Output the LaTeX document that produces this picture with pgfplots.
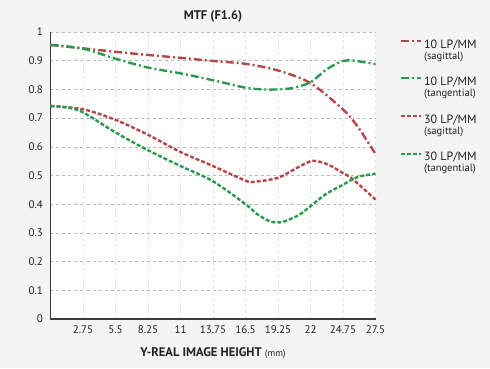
\documentclass[border=0pt]{standalone}
\usepackage{pgfplots}
\pgfplotsset{compat=1.18}
\usepackage{fontspec}
\setmainfont{PT Sans}
\definecolor{bgc}{HTML}{F4F4F4}
\definecolor{redc}{HTML}{B5474A}
\definecolor{greenc}{HTML}{2A9A4C}
\definecolor{axc}{HTML}{3A3A3A}
\definecolor{txt}{HTML}{222222}
\newcommand{\lent}[2]{\begin{tabular}[t]{@{}l@{}}#1\\[-2pt]{\fontsize{10.5}{11}\selectfont #2}\end{tabular}}
\begin{document}
\begin{tikzpicture}[x=1pt,y=1pt]
\path[use as bounding box, fill=bgc] (-50.5,-49) rectangle (439.5,319);
\begin{axis}[
  at={(0,0)}, anchor=south west,
  scale only axis, width=325pt, height=287pt,
  xmin=0, xmax=27.5, ymin=0, ymax=1,
  axis x line*=bottom, axis y line*=left,
  axis line style={axc, line width=1.2pt, -},
  axis background/.style={fill=white},
  xtick={2.75,5.5,8.25,11,13.75,16.5,19.25,22,24.75,27.5},
  xticklabels={2.75,5.5,8.25,11,13.75,16.5,19.25,22,24.75,27.5},
  ytick={0,0.1,0.2,0.3,0.4,0.5,0.6,0.7,0.8,0.9,1},
  yticklabels={0,0.1,0.2,0.3,0.4,0.5,0.6,0.7,0.8,0.9,1},
  major tick length=0pt,
  ticklabel style={font=\fontsize{11}{12}\selectfont, text=txt},
  xticklabel style={yshift=-3pt},
  yticklabel style={xshift=-4pt},
  ymajorgrids, xmajorgrids,
  y grid style={dashed, gray!55, line width=0.6pt},
  x grid style={dashed, gray!22, line width=0.6pt},
  legend cell align=left,
  legend style={at={(1.075,0.983)}, anchor=north west, draw=none, fill=none,
    font=\fontsize{12}{13}\selectfont, text=txt,
    row sep=23pt, inner sep=0pt, nodes={inner sep=2pt}},
  legend image code/.code={\draw[#1, line width=2pt] (0pt,3.5pt) -- (20pt,3.5pt);},
  clip=false,
]
\addplot[redc, line width=2.4pt, smooth, dash pattern=on 8pt off 3pt on 2pt off 3pt]
 coordinates {(0,0.955)(2.75,0.943)(5.5,0.931)(8.25,0.92)(11,0.91)(13.75,0.899)(16.5,0.889)(19.25,0.866)(22,0.822)(24.75,0.73)(26,0.67)(27.5,0.575)};
\addlegendentry{\lent{10 LP/MM}{(sagittal)}}
\addplot[greenc, line width=2.4pt, smooth, dash pattern=on 8pt off 3pt on 2pt off 3pt]
 coordinates {(0,0.955)(2.75,0.942)(5.5,0.907)(8.25,0.876)(11,0.856)(13.75,0.832)(16.5,0.806)(18,0.80)(19.25,0.80)(20.5,0.805)(22,0.825)(23.4,0.871)(24.75,0.899)(25.7,0.90)(27.5,0.888)};
\addlegendentry{\lent{10 LP/MM}{(tangential)}}
\addplot[redc, line width=2.4pt, smooth, dash pattern=on 4pt off 2pt]
 coordinates {(0,0.742)(2.75,0.731)(5.5,0.694)(8.25,0.642)(11,0.582)(13.75,0.533)(16.5,0.482)(17.2,0.478)(19.25,0.492)(21,0.53)(22.2,0.551)(23.5,0.538)(24.75,0.508)(25.5,0.49)(27.5,0.416)};
\addlegendentry{\lent{30 LP/MM}{(sagittal)}}
\addplot[greenc, line width=2.4pt, smooth, dash pattern=on 4pt off 2pt]
 coordinates {(0,0.742)(1.4,0.737)(2.75,0.72)(5.5,0.65)(8.25,0.588)(11,0.533)(13.75,0.48)(16.5,0.40)(17.5,0.365)(18.6,0.34)(19.6,0.338)(21,0.362)(22,0.393)(23.3,0.435)(24.75,0.468)(26,0.495)(27.5,0.506)};
\addlegendentry{\lent{30 LP/MM}{(tangential)}}
\node[font=\fontsize{12.5}{14}\selectfont\bfseries, text=txt] at (axis cs:13.75,1) [yshift=16pt] {MTF (F1.6)};
\node[font=\fontsize{12.5}{14}\selectfont\bfseries, text=txt] at (axis cs:13.75,0) [yshift=-34pt] {Y-REAL IMAGE HEIGHT {\fontsize{9.5}{11}\selectfont\mdseries(mm)}};
\end{axis}
\end{tikzpicture}
\end{document}
